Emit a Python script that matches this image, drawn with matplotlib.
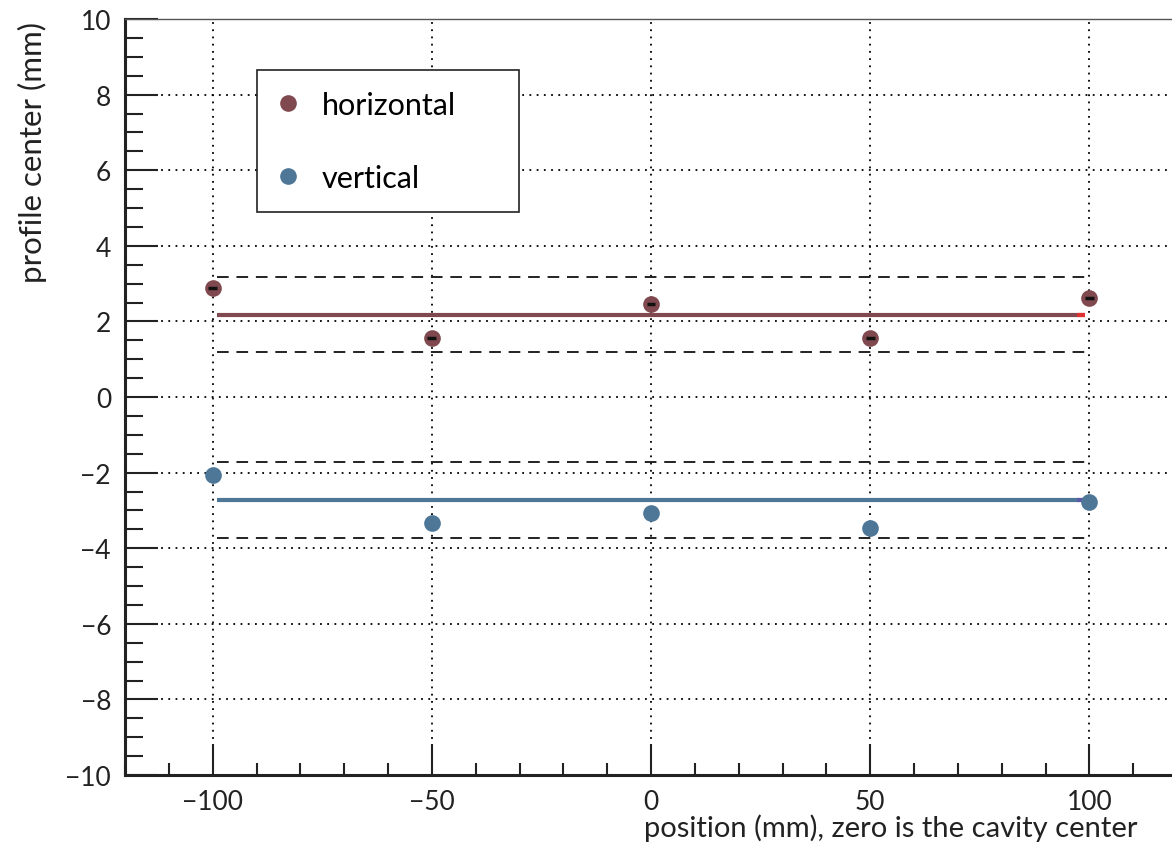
import matplotlib
matplotlib.use("Agg")
import matplotlib.pyplot as plt
from matplotlib.ticker import MultipleLocator
from matplotlib.lines import Line2D
import numpy as np

plt.rcParams['font.family'] = ['Lato', 'DejaVu Sans']

# Measurement positions along the cavity axis (mm)
positions = [-100, -50, 0, 50, 100]
pos_err = [1, 1, 1, 1, 1]

# Profile centres (mm)
horizontal = [2.88, 1.56, 2.46, 1.56, 2.62]
vertical = [-2.06, -3.33, -3.07, -3.47, -2.78]

# Constant fits and their +/- tolerance bands (mm)
fit_range = [-98.9, 99.1]
fit_horizontal = 2.18
fit_vertical = -2.72
band = 1.0

col_h = '#80494f'
col_v = '#4e7797'
ink = '#222222'

W, H = 1172, 845
fig = plt.figure(figsize=(W / 100, H / 100), dpi=100)
ax = fig.add_axes([125 / W, (H - 776) / H, 1052 / W, 756 / H])

ax.set_xlim(-120, 120)
ax.set_ylim(-10, 10)

ax.grid(True, which='major', linestyle=(0, (1, 3)), color='black', linewidth=1.3)

# tolerance bands
for c in (fit_horizontal, fit_vertical):
    for s in (-band, band):
        ax.plot(fit_range, [c + s, c + s], color=ink, lw=1.4,
                linestyle=(0, (6, 4)), zorder=3)

# fit lines
ax.plot(fit_range, [fit_horizontal] * 2, color=col_h, lw=3, zorder=4, solid_capstyle='butt')
ax.plot([97.3, fit_range[1]], [fit_horizontal] * 2, color='#e03030', lw=3, zorder=4,
        solid_capstyle='butt')
ax.plot(fit_range, [fit_vertical] * 2, color=col_v, lw=3, zorder=4, solid_capstyle='butt')
ax.plot([97.3, fit_range[1]], [fit_vertical] * 2, color='#5a5aa8', lw=3, zorder=4,
        solid_capstyle='butt')

# data points
ax.plot(positions, horizontal, 'o', color=col_h, ms=12, mec='none', zorder=5)
ax.errorbar(positions, horizontal, xerr=pos_err, fmt='none', ecolor='#111111',
            elinewidth=2.5, capsize=0, zorder=6)
ax.plot(positions, vertical, 'o', color=col_v, ms=12, mec='none', zorder=5)

# axes styling
ax.spines['right'].set_visible(False)
ax.spines['top'].set_linewidth(1.0)
ax.spines['top'].set_color('#555555')
for side in ('left', 'bottom'):
    ax.spines[side].set_linewidth(2.2)
    ax.spines[side].set_color(ink)

ax.xaxis.set_major_locator(MultipleLocator(50))
ax.xaxis.set_minor_locator(MultipleLocator(10))
ax.yaxis.set_major_locator(MultipleLocator(2))
ax.yaxis.set_minor_locator(MultipleLocator(0.5))
ax.tick_params(axis='x', which='major', direction='in', length=22, width=1.5,
               labelsize=19, pad=10, colors=ink)
ax.tick_params(axis='x', which='minor', direction='in', length=9, width=1.5, colors=ink)
ax.tick_params(axis='y', which='major', direction='in', length=24, width=1.5,
               labelsize=19, pad=10, colors=ink)
ax.tick_params(axis='y', which='minor', direction='in', length=13, width=1.5, colors=ink)
ax.set_xticks([-100, -50, 0, 50, 100])
ax.set_xticklabels(['\u2212100', '\u221250', '0', '50', '100'])
ax.set_yticks(np.arange(-10, 11, 2))
ax.set_yticklabels([('\u2212' + str(-v)) if v < 0 else str(v) for v in range(-10, 11, 2)])

fig.text(1137 / W, 1 - 828 / H, 'position (mm), zero is the cavity center',
         ha='right', va='center', fontsize=21, color=ink)
fig.text(32 / W, 1 - 22 / H, 'profile center (mm)', rotation=90,
         ha='center', va='top', fontsize=22.5, color=ink)

handles = [Line2D([], [], marker='o', ls='none', color=col_h, ms=12, mec='none'),
           Line2D([], [], marker='o', ls='none', color=col_v, ms=12, mec='none')]
leg = ax.legend(handles, ['horizontal', 'vertical'], loc='upper left',
                bbox_to_anchor=(257 / W, 1 - 211 / H, 262 / W, 140 / H),
                bbox_transform=fig.transFigure, mode='expand',
                fontsize=22, frameon=True, fancybox=False, framealpha=1,
                edgecolor=ink, borderpad=0.68, labelspacing=1.47,
                handletextpad=0.79, handlelength=0.66, borderaxespad=0)
leg.get_frame().set_linewidth(1.2)
leg.set_zorder(10)

fig.savefig('out.png', dpi=100)
